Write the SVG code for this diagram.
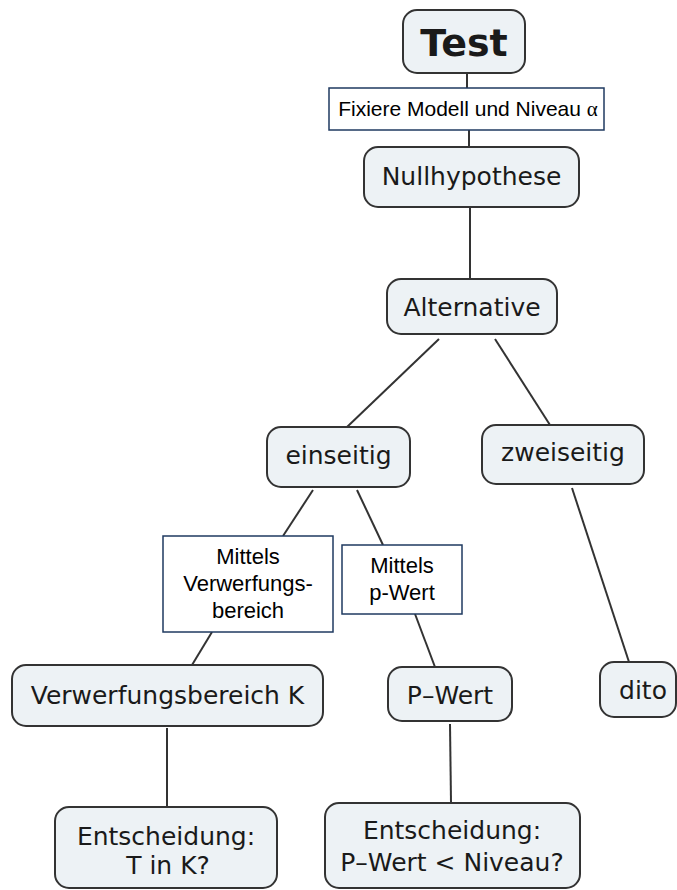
<svg xmlns="http://www.w3.org/2000/svg" width="677" height="890" viewBox="0 0 677 890">
<style>
.node rect{fill:#edf2f5;stroke:#333;stroke-width:2}
.node text{font-family:"DejaVu Sans",Verdana,sans-serif;font-size:25px;fill:#1a1a1a;text-anchor:middle}
.lbl rect{fill:#fff;stroke:#1f3a60;stroke-width:1.5}
.lbl text{font-family:"Liberation Sans",Arial,sans-serif;font-size:22px;fill:#000;text-anchor:middle}
.conn line{stroke:#333;stroke-width:2}
</style>
<rect width="677" height="890" fill="#fff"/>
<g id="connectors" class="conn">
<line x1="467" y1="73" x2="467" y2="88"/>
<line x1="469" y1="130" x2="469" y2="147"/>
<line x1="470" y1="207" x2="470" y2="279"/>
<line x1="439" y1="339" x2="347" y2="427"/>
<line x1="495" y1="339" x2="550" y2="425"/>
<line x1="313" y1="490" x2="283" y2="536"/>
<line x1="212" y1="632" x2="192" y2="665"/>
<line x1="357" y1="490" x2="383" y2="545"/>
<line x1="415" y1="614" x2="435" y2="667"/>
<line x1="572" y1="488" x2="629" y2="662"/>
<line x1="167" y1="728" x2="167" y2="807"/>
<line x1="450" y1="724" x2="451" y2="803"/>
</g>
<g id="test" class="node"><rect x="403" y="10" width="122" height="63" rx="14"/><text x="464" y="56" style="font-weight:bold;font-size:38px">Test</text></g>
<g id="label-fixiere" class="lbl"><rect x="329" y="88" width="275" height="42"/><text x="468" y="116" style="font-size:21px">Fixiere Modell und Niveau <tspan style="font-family:'Liberation Serif','Times New Roman',serif">α</tspan></text></g>
<g id="nullhypothese" class="node"><rect x="364" y="147" width="215" height="60" rx="14"/><text x="471.5" y="185">Nullhypothese</text></g>
<g id="alternative" class="node"><rect x="387" y="279" width="170" height="55" rx="14"/><text x="472" y="316">Alternative</text></g>
<g id="einseitig" class="node"><rect x="267" y="427" width="143" height="60" rx="14"/><text x="338.5" y="464">einseitig</text></g>
<g id="zweiseitig" class="node"><rect x="482" y="425" width="162" height="59" rx="14"/><text x="563" y="461">zweiseitig</text></g>
<g id="label-verwerfung" class="lbl"><rect x="163" y="536" width="170" height="96"/><text x="248" y="564">Mittels</text><text x="248" y="591">Verwerfungs-</text><text x="248" y="618">bereich</text></g>
<g id="label-pwert" class="lbl"><rect x="342" y="545" width="120" height="69"/><text x="402" y="573">Mittels</text><text x="402" y="600">p-Wert</text></g>
<g id="verwerfungsbereich" class="node"><rect x="12" y="665" width="311" height="61" rx="14"/><text x="167.5" y="704">Verwerfungsbereich K</text></g>
<g id="pwert" class="node"><rect x="388" y="667" width="124" height="54" rx="14"/><text x="450" y="704">P–Wert</text></g>
<g id="dito" class="node"><rect x="600" y="662" width="76" height="55" rx="14"/><text x="643" y="699">dito</text></g>
<g id="entscheidung-k" class="node"><rect x="55" y="807" width="222" height="81" rx="14"/><text x="166" y="845">Entscheidung:</text><text x="168" y="874">T in K?</text></g>
<g id="entscheidung-p" class="node"><rect x="325" y="803" width="255" height="85" rx="14"/><text x="452" y="839">Entscheidung:</text><text x="452" y="871">P–Wert &lt; Niveau?</text></g>
</svg>
